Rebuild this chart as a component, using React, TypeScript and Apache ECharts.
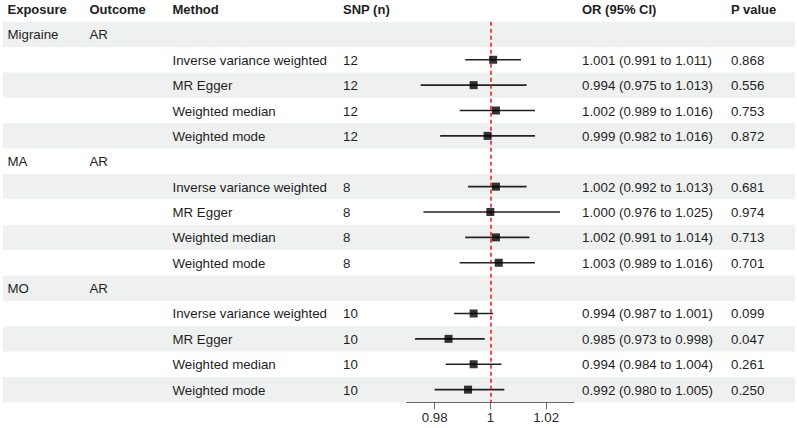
import React, { useEffect, useRef } from "react";
import * as echarts from "echarts";

const exposures = ["Migraine", "MA", "MO"];
const outcomes = ["AR", "AR", "AR"];
const methods = ["Inverse variance weighted", "MR Egger", "Weighted median", "Weighted mode"];
const snpCounts = [12, 8, 10];
const orValues = [
  [1.001, 0.994, 1.002, 0.999],
  [1.002, 1.0, 1.002, 1.003],
  [0.994, 0.985, 0.994, 0.992],
];
const ciLower = [
  [0.991, 0.975, 0.989, 0.982],
  [0.992, 0.976, 0.991, 0.989],
  [0.987, 0.973, 0.984, 0.98],
];
const ciUpper = [
  [1.011, 1.013, 1.016, 1.016],
  [1.013, 1.025, 1.014, 1.016],
  [1.001, 0.998, 1.004, 1.005],
];
const pValues = [
  ["0.868", "0.556", "0.753", "0.872"],
  ["0.681", "0.974", "0.713", "0.701"],
  ["0.099", "0.047", "0.261", "0.250"],
];
const headers = ["Exposure", "Outcome", "Method", "SNP (n)", "OR (95% CI)", "P value"];
const xTicks = [0.98, 1, 1.02];
const xMin = 0.97;
const xMax = 1.03;
const refValue = 1;

type Row = { g: number; m: number };
const rows: Row[] = [];
exposures.forEach((_, g) => {
  rows.push({ g, m: -1 });
  methods.forEach((__, m) => rows.push({ g, m }));
});
const rowCats = rows.map((_, i) => String(i));

const colX = [7.5, 89.5, 172.5, 343, 582, 731];
const FONT = "'Liberation Sans', Arial, Helvetica, sans-serif";
const TEXT = "#1e1e1e";
const FS = 13.3;
const TOP = 21.7;
const HEIGHT = 380.6;

function rowTexts(r: Row): string[] {
  if (r.m < 0) return [exposures[r.g], outcomes[r.g], "", "", "", ""];
  const o = orValues[r.g][r.m];
  const lo = ciLower[r.g][r.m];
  const hi = ciUpper[r.g][r.m];
  return [
    "",
    "",
    methods[r.m],
    String(snpCounts[r.g]),
    `${o.toFixed(3)} (${lo.toFixed(3)} to ${hi.toFixed(3)})`,
    pValues[r.g][r.m],
  ];
}

export default function App() {
  const ref = useRef<HTMLDivElement>(null);
  useEffect(() => {
    if (!ref.current) return;
    const chart = echarts.init(ref.current, undefined, { renderer: "svg" });

    const ciData: any[] = [];
    const pointData: any[] = [];
    rows.forEach((r, i) => {
      if (r.m >= 0) {
        ciData.push([ciLower[r.g][r.m], ciUpper[r.g][r.m], i]);
        pointData.push([orValues[r.g][r.m], i]);
      }
    });

    const option: any = {
      animation: false,
      backgroundColor: "#ffffff",
      textStyle: { fontFamily: FONT },
      graphic: headers.map((h, k) => ({
        type: "text",
        x: colX[k],
        y: 9.5,
        style: {
          text: h,
          fill: TEXT,
          fontSize: 13,
          fontWeight: "bold",
          fontFamily: FONT,
          verticalAlign: "middle",
          align: "left",
        },
      })),
      grid: [
        { left: 3, width: 792, top: TOP, height: HEIGHT },
        { left: 406.7, width: 167.3, top: TOP, height: HEIGHT },
      ],
      xAxis: [
        { gridIndex: 0, type: "value", min: 0, max: 1, show: false },
        {
          gridIndex: 1,
          type: "value",
          min: xMin,
          max: xMax,
          splitLine: { show: false },
          axisLine: { show: true, lineStyle: { color: "#666666", width: 1 } },
          axisTick: {
            show: true,
            length: 7,
            lineStyle: { color: "#666666" },
            customValues: xTicks,
          },
          axisLabel: {
            show: true,
            color: "#2a2a2a",
            fontSize: FS,
            fontFamily: FONT,
            margin: 9,
            customValues: xTicks,
            formatter: (v: number) => String(parseFloat(v.toFixed(4))),
          },
        },
      ],
      yAxis: [
        {
          gridIndex: 0,
          type: "category",
          data: rowCats,
          inverse: true,
          show: false,
        },
        {
          gridIndex: 1,
          type: "category",
          data: rowCats,
          inverse: true,
          show: false,
        },
      ],
      series: [
        {
          type: "custom",
          xAxisIndex: 0,
          yAxisIndex: 0,
          z: 0,
          silent: true,
          data: rows.map((_, i) => [0, i]),
          encode: { x: 0, y: 1 },
          renderItem: (params: any, api: any) => {
            const i = params.dataIndex;
            const y = api.coord([0, i])[1];
            const h = api.size([0, 1])[1];
            const cs = params.coordSys;
            const children: any[] = [];
            if (i % 2 === 0) {
              children.push({
                type: "rect",
                shape: { x: cs.x, y: y - h / 2, width: cs.width, height: h },
                style: { fill: "#eef1f0" },
              });
            }
            rowTexts(rows[i]).forEach((t, k) => {
              if (!t) return;
              children.push({
                type: "text",
                x: colX[k],
                y: y + 0.5,
                style: {
                  text: t,
                  fill: TEXT,
                  fontSize: FS,
                  fontFamily: FONT,
                  verticalAlign: "middle",
                  align: "left",
                },
              });
            });
            return { type: "group", children };
          },
        },
        {
          type: "custom",
          xAxisIndex: 1,
          yAxisIndex: 1,
          z: 3,
          silent: true,
          data: ciData,
          encode: { x: [0, 1], y: 2 },
          renderItem: (_p: any, api: any) => {
            const a = api.coord([api.value(0), api.value(2)]);
            const b = api.coord([api.value(1), api.value(2)]);
            return {
              type: "line",
              shape: { x1: a[0], y1: a[1], x2: b[0], y2: b[1] },
              style: { stroke: "#222222", lineWidth: 1.6 },
            };
          },
        },
        {
          type: "scatter",
          xAxisIndex: 1,
          yAxisIndex: 1,
          z: 5,
          silent: true,
          symbol: "rect",
          symbolSize: 8,
          itemStyle: { color: "#000000" },
          data: pointData,
          markLine: {
            silent: true,
            symbol: ["none", "none"],
            label: { show: false },
            lineStyle: { color: "#e8161b", type: [4, 3], width: 1.5 },
            data: [{ xAxis: refValue }],
          },
        },
      ],
    };
    chart.setOption(option);
    return () => chart.dispose();
  }, []);
  return (
    <div
      ref={ref}
      style={{ position: "fixed", left: 0, top: 0, width: 797, height: 428 }}
    />
  );
}
